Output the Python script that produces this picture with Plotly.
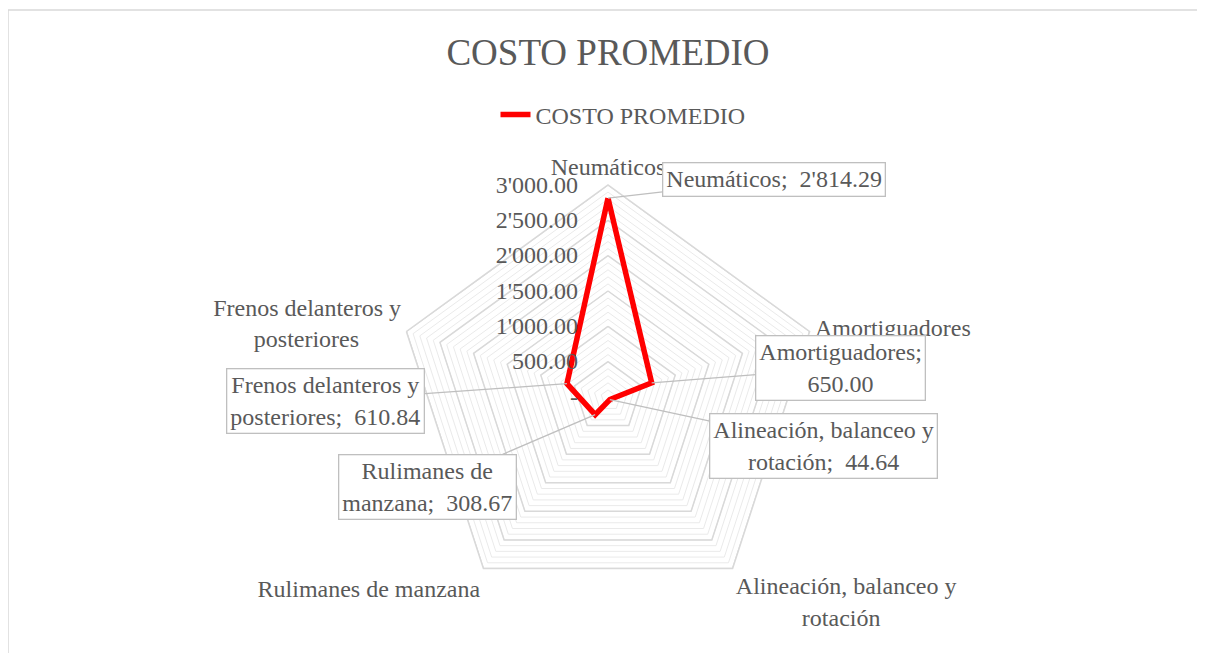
import math
import plotly.graph_objects as go

# ── Data ──────────────────────────────────────────────────────────────────────
categorias = ["Neumáticos", "Amortiguadores", "Alineación, balanceo y rotación",
              "Rulimanes de manzana", "Frenos delanteros y posteriores"]
NB = "\u00a0"
# second lines padded so they sit centred under the first line
etiquetas_eje = ["Neumáticos", "Amortiguadores",
                 "Alineación, balanceo y<br>" + NB * 11 + "rotación",
                 "Rulimanes de manzana",
                 "Frenos delanteros y<br>posteriores" + NB * 7]
costo = [2814.29, 650.00, 44.64, 308.67, 610.84]
etiquetas_datos = ["Neumáticos;  2'814.29", "Amortiguadores;<br>650.00",
                   "Alineación, balanceo y<br>rotación;  44.64",
                   "Rulimanes de<br>manzana;  308.67",
                   "Frenos delanteros y<br>posteriores;  610.84"]
# label box centres, offset from the point (pixels)
offset_etiquetas = [(166, -19), (189, -15), (214, 46), (-168, 72), (-241, 17)]

R_MAX = 3000
tick_vals = list(range(0, R_MAX + 1, 100))
tick_text = []
for v in tick_vals:
    if v == 0:
        tick_text.append("-")
    elif v % 500 == 0:
        tick_text.append(f"{v // 1000}'{v % 1000:03d}.00" if v >= 1000 else f"{v}.00")
    else:
        tick_text.append("")

W, H = 1205, 653
OFF = 8                              # page body margin
CX, CY, RAD = 608 - OFF, 397 - OFF, 212  # polar centre / radius in pixels
FONT = "Liberation Serif"
GRIS = "#595959"

fig = go.Figure()

# major gridlines (every 500) drawn darker
for v in range(500, R_MAX + 1, 500):
    fig.add_trace(go.Scatterpolar(
        r=[v] * 6, theta=categorias + categorias[:1], mode="lines",
        line=dict(color="#d9d9d9", width=1.5), showlegend=False, hoverinfo="skip"))

fig.add_trace(go.Scatterpolar(
    r=costo + costo[:1], theta=categorias + categorias[:1], mode="lines",
    name="COSTO PROMEDIO", line=dict(color="#ff0000", width=5.5)))

# data labels with leader lines
annotations = []
n = len(categorias)
for i, (val, txt, (dx, dy)) in enumerate(zip(costo, etiquetas_datos, offset_etiquetas)):
    ang = 2 * math.pi * i / n
    px_ = CX + val / R_MAX * RAD * math.sin(ang)
    py_ = CY - val / R_MAX * RAD * math.cos(ang)
    annotations.append(dict(
        x=px_ / W, y=1 - py_ / H, xref="paper", yref="paper",
        ax=dx, ay=dy, showarrow=True, arrowhead=0, arrowwidth=1.3, arrowcolor="#bfbfbf",
        text=txt, font=dict(family=FONT, size=24, color=GRIS),
        bordercolor="#bfbfbf", borderwidth=1.3, borderpad=3, bgcolor="white",
        align="center"))

fig.update_layout(
    width=W, height=H,
    margin=dict(l=0, r=0, t=0, b=0),
    paper_bgcolor="white", plot_bgcolor="white",
    title=dict(text="COSTO PROMEDIO", x=(608 - OFF) / W, xanchor="center",
               y=1 - (52 - OFF) / H, yanchor="middle",
               font=dict(family=FONT, size=37, color=GRIS)),
    legend=dict(orientation="h", x=(623 - OFF) / W, xanchor="center",
                y=1 - (115 - OFF) / H, yanchor="middle",
                font=dict(family=FONT, size=24, color=GRIS)),
    polar=dict(
        domain=dict(x=[(CX - RAD) / W, (CX + RAD) / W], y=[1 - (CY + RAD) / H, 1 - (CY - RAD) / H]),
        gridshape="linear", bgcolor="white",
        radialaxis=dict(range=[0, R_MAX], tickvals=tick_vals, ticktext=tick_text,
                        angle=90, side="counterclockwise", tickangle=90,
                        showline=False, ticks="outside", ticklen=21, tickcolor="rgba(0,0,0,0)",
                        gridcolor="#eaeaea", gridwidth=1.3,
                        tickfont=dict(family=FONT, size=24, color=GRIS)),
        angularaxis=dict(direction="clockwise", rotation=90, showgrid=False,
                         showline=True, linecolor="#d9d9d9", linewidth=1.5, ticks="",
                         tickvals=categorias, ticktext=etiquetas_eje,
                         tickfont=dict(family=FONT, size=24, color=GRIS)),
    ),
    annotations=annotations,
    shapes=[dict(type="rect", xref="paper", yref="paper", x0=0, x1=1.02, y0=-0.02, y1=1 - 2 / H,
                 line=dict(color="#d9d9d9", width=1.5), fillcolor="rgba(0,0,0,0)", layer="below")],
)

fig.write_html("out.html")
